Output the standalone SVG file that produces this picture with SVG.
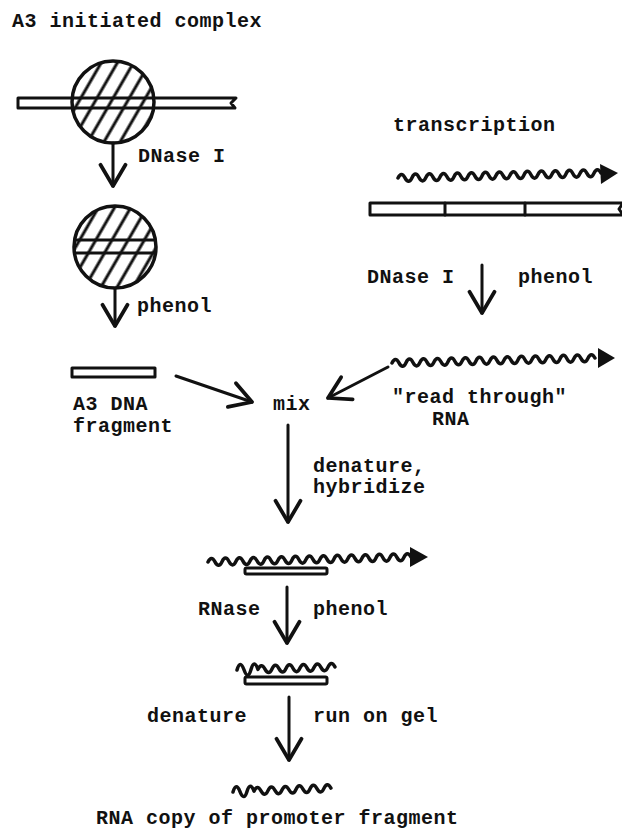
<svg xmlns="http://www.w3.org/2000/svg" width="622" height="830" viewBox="0 0 622 830">
<style>
text{font-family:"Liberation Mono","Courier New",monospace;font-weight:bold;font-size:20px;letter-spacing:0.5px;fill:#111}
.ln{stroke:#111;stroke-width:3;fill:none;stroke-linecap:round}
.bar{stroke:#111;stroke-width:3;fill:#fff;stroke-linejoin:round}
.wave{stroke:#111;stroke-width:3.5;fill:none;stroke-linecap:round;stroke-linejoin:round}
.head{fill:#111}
.circ{stroke:#111;stroke-width:3.5;fill:none}
.hatch{fill:url(#hatch)}
</style>
<defs>
<pattern id="hatch" patternUnits="userSpaceOnUse" width="14" height="14" patternTransform="rotate(30)">
<line x1="7" y1="-2" x2="7" y2="16" stroke="#111" stroke-width="3"/>
</pattern>
<marker id="ah" markerUnits="userSpaceOnUse" markerWidth="30" markerHeight="30" viewBox="-20 -12 24 24" refX="0" refY="0" orient="auto">
<path d="M-17,-10 L0,0 L-17,10" fill="none" stroke="#111" stroke-width="3" stroke-linecap="round" stroke-linejoin="round"/>
</marker>
<clipPath id="c1"><circle cx="113" cy="102" r="41"/></clipPath>
<clipPath id="c2"><circle cx="115" cy="247" r="41"/></clipPath>
</defs>

<g id="title"><text x="12" y="27">A3 initiated complex</text></g>

<g id="complex1">
<circle cx="113" cy="102" r="41" fill="#fff"/>
<path class="bar" d="M18,98 H236 L231,103 L235,108 H18 Z"/>
<rect x="60" y="50" width="110" height="110" class="hatch" clip-path="url(#c1)"/>
<circle class="circ" cx="113" cy="102" r="41"/>
</g>

<g id="complex2">
<circle cx="115" cy="247" r="41" fill="#fff"/>
<g clip-path="url(#c2)">
<line class="ln" x1="70" y1="240" x2="160" y2="240"/>
<line class="ln" x1="70" y1="253" x2="160" y2="253"/>
<rect x="60" y="195" width="110" height="110" class="hatch"/>
</g>
<circle class="circ" cx="115" cy="247" r="41"/>
</g>

<g id="fragment">
<rect class="bar" x="72" y="368" width="83" height="9"/>
<text x="73" y="410">A3 DNA</text>
<text x="73" y="432">fragment</text>
</g>

<g id="transcription">
<text x="393" y="131">transcription</text>
<path class="wave" transform="translate(398,178) rotate(-1.4)" d="M0,0 q3.5,-7 7,0 t7,0 t7,0 t7,0 t7,0 t7,0 t7,0 t7,0 t7,0 t7,0 t7,0 t7,0 t7,0 t7,0 t7,0 t7,0 t7,0 t7,0 t7,0 t7,0 t7,0 t7,0 t7,0 t7,0 t7,0 t7,0 t7,0 t7,0 t7,0"/>
<polygon class="head" points="600,164 618,173 601,184"/>
<path class="bar" d="M623,203 H370 V215 H623 L619,209 Z"/>
<line class="ln" x1="445" y1="203" x2="445" y2="215"/>
<line class="ln" x1="525" y1="203" x2="525" y2="215"/>
</g>

<g id="readthrough">
<path class="wave" transform="translate(392,363) rotate(-1.4)" d="M0,0 q3.5,-7 7,0 t7,0 t7,0 t7,0 t7,0 t7,0 t7,0 t7,0 t7,0 t7,0 t7,0 t7,0 t7,0 t7,0 t7,0 t7,0 t7,0 t7,0 t7,0 t7,0 t7,0 t7,0 t7,0 t7,0 t7,0 t7,0 t7,0 t7,0 t7,0"/>
<polygon class="head" points="598,348 615,358 598,368"/>
<text x="392" y="403">"read through"</text>
<text x="432" y="425">RNA</text>
</g>

<g id="mix"><text x="273" y="410">mix</text></g>

<g id="hybrid">
<path class="wave" transform="translate(208,562) rotate(-1.4)" d="M0,0 q3.5,-7 7,0 t7,0 t7,0 t7,0 t7,0 t7,0 t7,0 t7,0 t7,0 t7,0 t7,0 t7,0 t7,0 t7,0 t7,0 t7,0 t7,0 t7,0 t7,0 t7,0 t7,0 t7,0 t7,0 t7,0 t7,0 t7,0 t7,0 t7,0 t7,0"/>
<polygon class="head" points="410,547 428,557 410,567"/>
<rect class="bar" x="245" y="568" width="82" height="6" rx="1.5"/>
</g>

<g id="trimmed">
<path class="wave" transform="translate(237,670) rotate(-1.8)" d="M0,0 q3.5,-11 7,0 t7,0 t7,0 q3.5,-7 7,0 t7,0 t7,0 t7,0 t7,0 t7,0 t7,0 t7,0 t7,0 t7,0 t7,0"/>
<rect class="bar" x="245" y="677" width="82" height="7" rx="1.5"/>
</g>

<g id="product">
<path class="wave" transform="translate(233,792) rotate(-2.3)" d="M0,0 q3.5,-10 7,0 t7,0 t7,0 q3.5,-7 7,0 t7,0 t7,0 t7,0 t7,0 t7,0 t7,0 t7,0 t7,0 t7,0 t7,0"/>
<text x="96" y="824">RNA copy of promoter fragment</text>
</g>

<g id="labels">
<text x="138" y="162">DNase I</text>
<text x="137" y="312">phenol</text>
<text x="367" y="283">DNase I</text>
<text x="518" y="283">phenol</text>
<text x="313" y="472">denature,</text>
<text x="313" y="493">hybridize</text>
<text x="198" y="615">RNase</text>
<text x="313" y="615">phenol</text>
<text x="147" y="722">denature</text>
<text x="313" y="722">run on gel</text>
</g>

<g id="connectors">
<line class="ln" x1="113" y1="143" x2="113" y2="186" marker-end="url(#ah)"/>
<line class="ln" x1="115" y1="289" x2="115" y2="326" marker-end="url(#ah)"/>
<line class="ln" x1="176" y1="376" x2="252" y2="402" marker-end="url(#ah)"/>
<line class="ln" x1="388" y1="367" x2="328" y2="398" marker-end="url(#ah)"/>
<line class="ln" x1="482" y1="265" x2="482" y2="313" marker-end="url(#ah)"/>
<line class="ln" x1="288" y1="425" x2="288" y2="522" marker-end="url(#ah)"/>
<line class="ln" x1="287" y1="587" x2="287" y2="643" marker-end="url(#ah)"/>
<line class="ln" x1="289" y1="697" x2="289" y2="760" marker-end="url(#ah)"/>
</g>
</svg>
